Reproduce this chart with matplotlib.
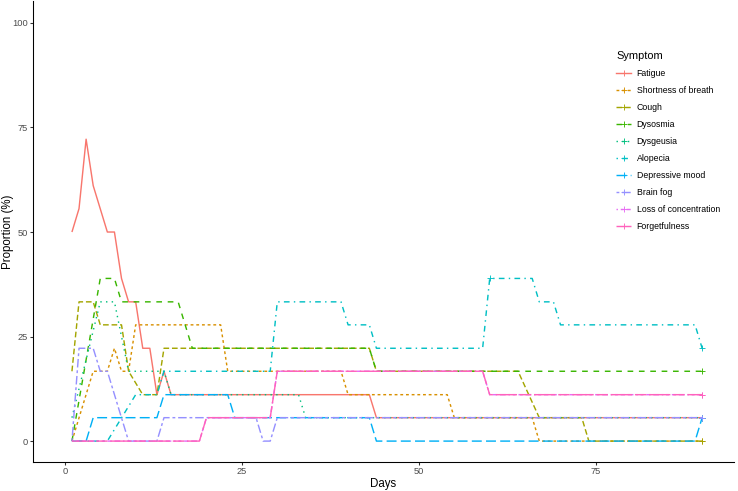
import matplotlib
matplotlib.use("Agg")
import matplotlib.pyplot as plt
from matplotlib.lines import Line2D

plt.rcParams['font.family'] = ['Liberation Sans', 'DejaVu Sans']

# ---- data: (day, proportion %) breakpoints per symptom ----
symptoms = ["Fatigue", "Shortness of breath", "Cough", "Dysosmia", "Dysgeusia",
            "Alopecia", "Depressive mood", "Brain fog", "Loss of concentration",
            "Forgetfulness"]

fatigue_days = [1, 2, 3, 4, 6, 7, 8, 9, 10, 11, 12, 13, 14, 15, 43, 44, 90]
fatigue_vals = [50, 55.6, 72.2, 61.1, 50, 50, 38.9, 33.3, 33.3, 22.2, 22.2, 11.1, 16.7, 11.1, 11.1, 5.6, 5.6]

sob_days = [1, 4, 6, 7, 8, 9, 10, 22, 23, 39, 40, 54, 55, 66, 67, 90]
sob_vals = [0, 16.7, 16.7, 22.2, 16.7, 16.7, 27.8, 27.8, 16.7, 16.7, 11.1, 11.1, 5.6, 5.6, 0, 0]

cough_days = [1, 2, 4, 5, 8, 9, 11, 13, 14, 43, 44, 64, 67, 73, 74, 90]
cough_vals = [16.7, 33.3, 33.3, 27.8, 27.8, 16.7, 11.1, 11.1, 22.2, 22.2, 16.7, 16.7, 5.6, 5.6, 0, 0]

dysosmia_days = [1, 5, 7, 8, 16, 18, 43, 44, 90]
dysosmia_vals = [0, 38.9, 38.9, 33.3, 33.3, 22.2, 22.2, 16.7, 16.7]

dysgeusia_days = [1, 5, 7, 9, 14, 15, 33, 34, 90]
dysgeusia_vals = [5.6, 33.3, 33.3, 16.7, 16.7, 11.1, 11.1, 5.6, 5.6]

alopecia_days = [1, 6, 10, 13, 14, 29, 30, 39, 40, 43, 44, 59, 60, 66, 67, 69, 70, 89, 90]
alopecia_vals = [0, 0, 11.1, 11.1, 16.7, 16.7, 33.3, 33.3, 27.8, 27.8, 22.2, 22.2, 38.9, 38.9, 33.3, 33.3, 27.8, 27.8, 22.2]

depressive_days = [1, 3, 4, 13, 14, 23, 24, 43, 44, 89, 90]
depressive_vals = [0, 0, 5.6, 5.6, 11.1, 11.1, 5.6, 5.6, 0, 0, 5.6]

brainfog_days = [1, 2, 4, 5, 6, 9, 13, 14, 27, 28, 29, 30, 90]
brainfog_vals = [0, 22.2, 22.2, 16.7, 16.7, 0, 0, 5.6, 5.6, 0, 0, 5.6, 5.6]

concentration_days = [1, 19, 20, 29, 30, 59, 60, 90]
concentration_vals = [0, 0, 5.6, 5.6, 16.7, 16.7, 11.1, 11.1]

forgetfulness_days = [1, 19, 20, 29, 30, 59, 60, 90]
forgetfulness_vals = [0, 0, 5.6, 5.6, 16.7, 16.7, 11.1, 11.1]

series_days = [fatigue_days, sob_days, cough_days, dysosmia_days, dysgeusia_days,
               alopecia_days, depressive_days, brainfog_days, concentration_days,
               forgetfulness_days]
series_vals = [fatigue_vals, sob_vals, cough_vals, dysosmia_vals, dysgeusia_vals,
               alopecia_vals, depressive_vals, brainfog_vals, concentration_vals,
               forgetfulness_vals]

# symptoms that carry a "+" marker at day 60 (all carry one at day 90)
marked_day60 = ["Fatigue", "Shortness of breath", "Cough", "Dysosmia", "Alopecia", "Brain fog"]

x_ticks = [0, 25, 50, 75]
y_ticks = [0, 25, 50, 75, 100]

# ---- styles ----
colors = ["#F8766D", "#D89000", "#A3A500", "#39B600", "#00BF7D",
          "#00BFC4", "#00B0F6", "#9590FF", "#E76BF3", "#FF62BC"]
dashes = [None, (2, 2), (4, 2), (4, 4), (1, 3), (1, 3, 4, 3), (7, 3),
          (2, 2, 6, 2), (1, 2, 2, 2, 3, 2, 4, 2), (15, 2, 8, 2)]

W, H = 738, 491
fig = plt.figure(figsize=(W / 72, H / 72), dpi=72)
left, right, bottom, top = 33, 734, 462, 1
ax = fig.add_axes([left / W, (H - bottom) / H, (right - left) / W, (bottom - top) / H])

lw = 1.42
for name, d, v, c, ds in zip(symptoms, series_days, series_vals, colors, dashes):
    ln, = ax.plot(d, v, color=c, lw=lw, solid_capstyle='butt')
    if ds is not None:
        ln.set_dashes(ds)
    md = [dd for dd, vv in zip(d, v) if dd == 90 or (dd == 60 and name in marked_day60)]
    mv = [vv for dd, vv in zip(d, v) if dd == 90 or (dd == 60 and name in marked_day60)]
    ax.plot(md, mv, linestyle='none', marker='+', color=c, markersize=6, mew=0.9)

ax.set_xlim(-4.5, 94.5)
ax.set_ylim(-5, 105.25)
ax.set_xticks(x_ticks)
ax.set_yticks(y_ticks)
ax.set_xticklabels([str(t) for t in x_ticks])
ax.set_yticklabels([str(t) for t in y_ticks])
ax.tick_params(axis='both', length=2.75, width=1.07, color='#333333',
               labelsize=9.2, labelcolor='#4D4D4D', pad=2.2)
for s in ['top', 'right']:
    ax.spines[s].set_visible(False)
for s in ['left', 'bottom']:
    ax.spines[s].set_linewidth(1.07)
    ax.spines[s].set_color('black')

ax.set_xlabel("Days", fontsize=11.5, labelpad=2)
ax.set_ylabel("Proportion (%)", fontsize=11.5)
ax.yaxis.set_label_coords((14 - left) / (right - left), 0.5)

handles = []
for c, ds in zip(colors, dashes):
    h = Line2D([0], [0], color=c, lw=lw, marker='+', markersize=6, mew=0.9)
    if ds is not None:
        h.set_dashes(ds)
    handles.append(h)

leg = ax.legend(handles, symptoms, title="Symptom", loc='upper left',
                bbox_to_anchor=(612 / W, 1 - 47 / H), bbox_transform=fig.transFigure,
                frameon=False, fontsize=8.8, title_fontsize=11, borderpad=0,
                handlelength=1.7, handletextpad=0.6, labelspacing=0.9,
                alignment='left')

fig.savefig("out.png", dpi=72)
